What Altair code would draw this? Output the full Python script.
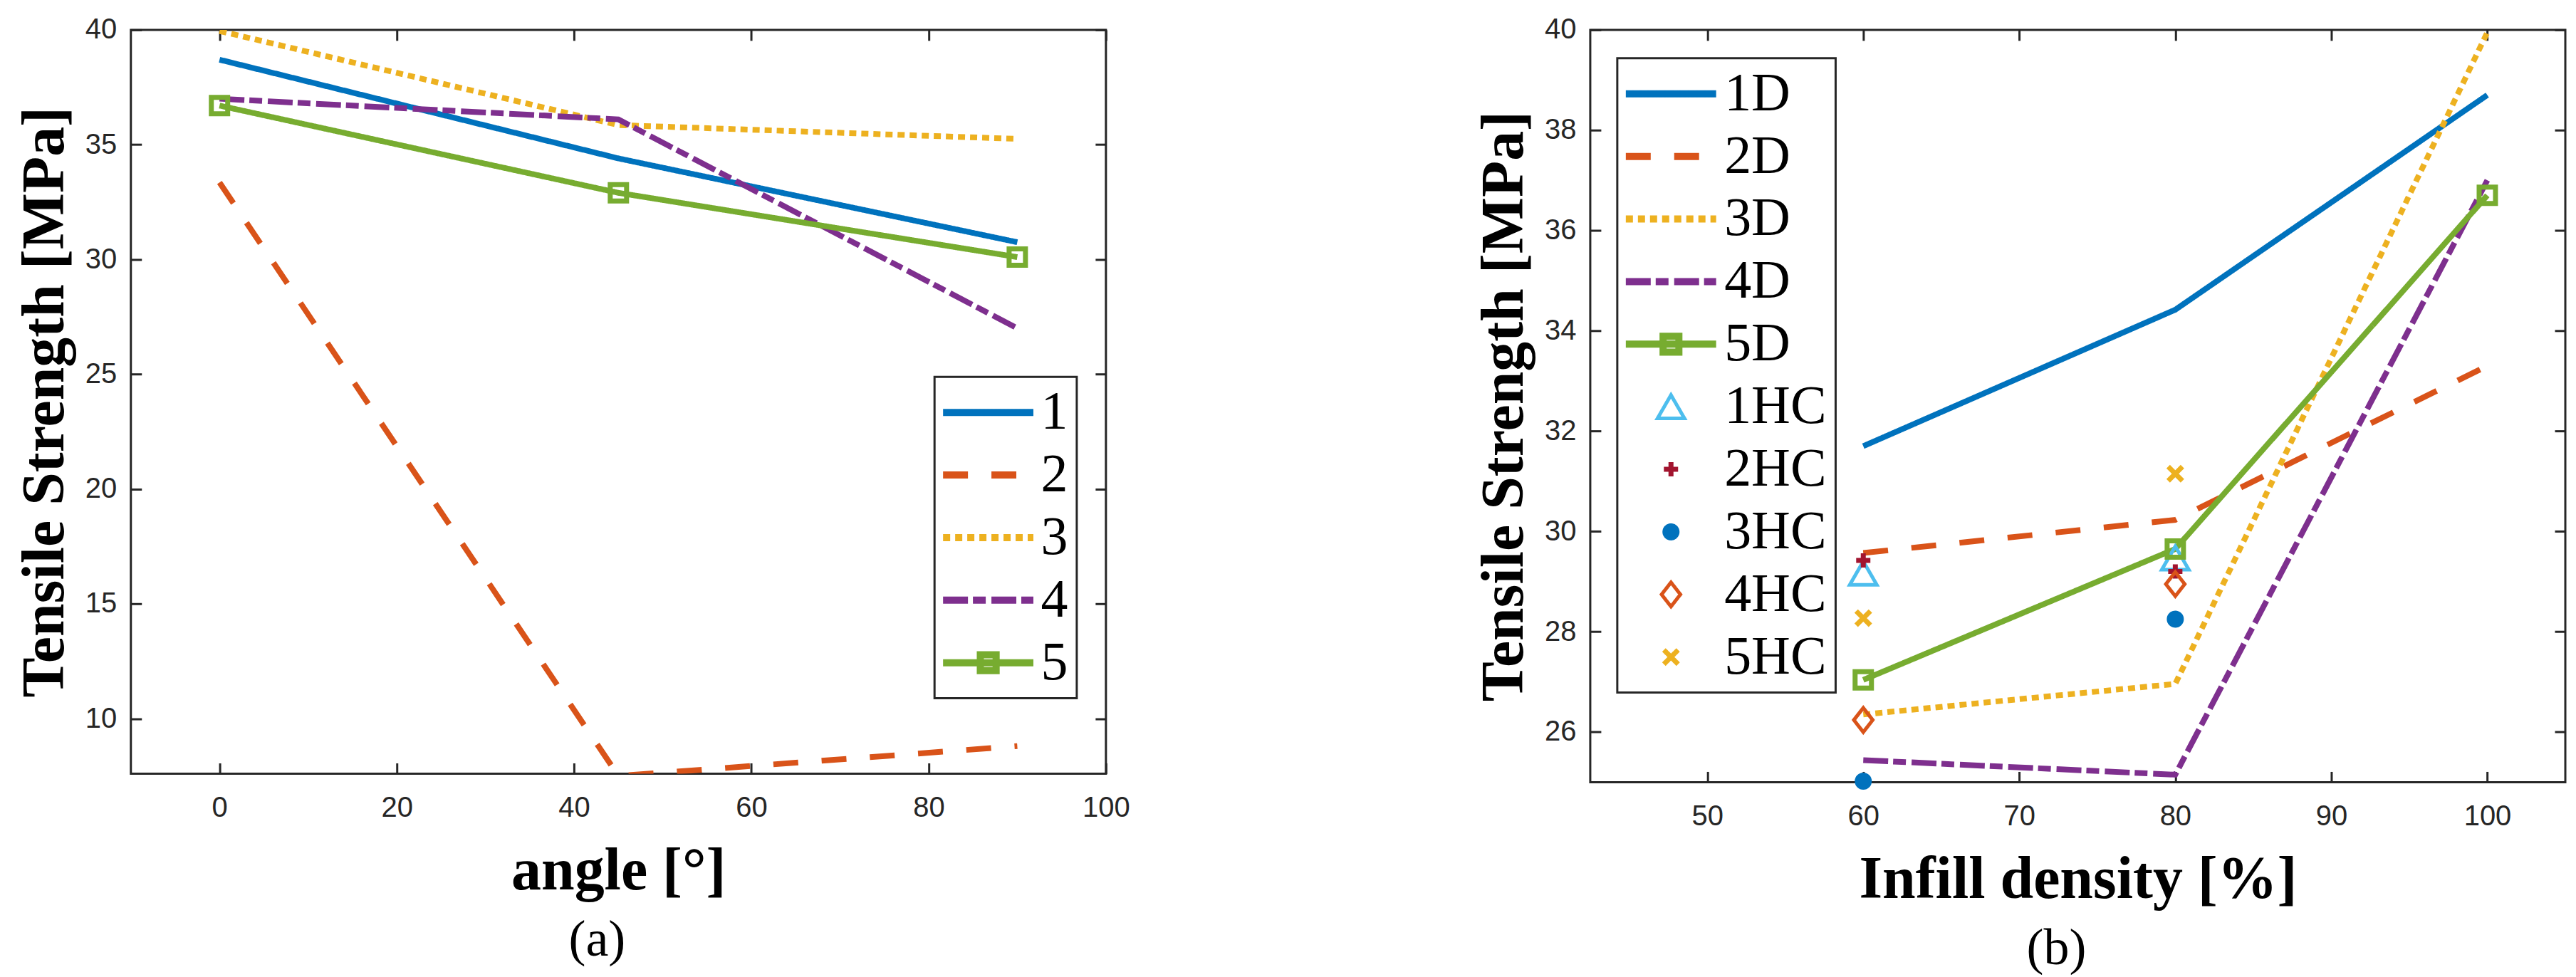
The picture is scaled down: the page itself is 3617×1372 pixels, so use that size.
import altair as alt
import pandas as pd

SERIF = "Liberation Serif, Times New Roman, serif"
SANS = "Liberation Sans, Arial, Helvetica, sans-serif"

# (a) tensile strength vs. print angle
angles = [0, 45, 90]
angle_series = ["1", "2", "3", "4", "5"]
a1 = [38.7, 34.4, 30.75]
a2 = [33.35, 7.5, 8.8]
a3 = [39.95, 35.85, 35.25]
a4 = [37.0, 36.1, 27.0]
a5 = [36.7, 32.9, 30.1]

# (b) tensile strength vs. infill density
density = [60, 80, 100]
line_names = ["1D", "2D", "3D", "4D", "5D"]
d1 = [31.7, 34.42, 38.7]
d2 = [29.57, 30.23, 33.3]
d3 = [26.35, 26.96, 39.95]
d4 = [25.44, 25.15, 37.0]
d5 = [27.04, 29.65, 36.7]

hc_density = [60, 80]
hc_names = ["1HC", "2HC", "3HC", "4HC", "5HC"]
hc1 = [29.17, 29.47]
hc2 = [29.42, 29.2]
hc3 = [25.02, 28.25]
hc4 = [26.24, 28.95]
hc5 = [28.27, 31.15]

# matlab default colours
line_colors = ["#0072BD", "#D95319", "#EDB120", "#7E2F8E", "#77AC30"]
hc_colors = ["#4DBEEE", "#A2142F", "#0072BD", "#D95319", "#EDB120"]
dashes = [[1, 0], [35, 33], [10, 7], [35, 7, 18, 8], [1, 0]]

# legend symbols (custom paths are scaled by sqrt(size)/2)
LINE = "M-2,0H2"
LINE_SQ = "M-2,0H2M-0.35,-0.35H0.35V0.35H-0.35Z"
PLUS = "M-1,0H1M0,-1V1"
XMARK = "M-1,-1L1,1M-1,1L1,-1"
DIAMOND = "M0,-1L0.78,0L0,1L-0.78,0Z"
line_shapes = [LINE, LINE, LINE, LINE, LINE_SQ]
hc_shapes = ["triangle-up", PLUS, "circle", DIAMOND, XMARK]
hc_sizes = [1444, 400, 324, 1156, 400]
hc_widths = [5, 7, 6, 5, 7]
LINE_SIZE = 4032
KEY_WIDTH = 10


def long_table(xname, xs, names, ys_list):
    rows = []
    for name, ys in zip(names, ys_list):
        for x, y in zip(xs, ys):
            rows.append({xname: x, "strength": y, "series": name})
    return pd.DataFrame(rows)


df_a = long_table("angle", angles, angle_series, [a1, a2, a3, a4, a5])
df_b = long_table("density", density, line_names, [d1, d2, d3, d4, d5])
df_hc = long_table("density", hc_density, hc_names, [hc1, hc2, hc3, hc4, hc5])


def axis(orient, values, title=None):
    kw = dict(orient=orient, values=values, offset=-15, tickSize=15, domain=False,
              grid=False, labelFlush=False, labelOverlap=False)
    if orient in ("top", "right"):
        kw.update(labels=False, title=None)
    else:
        kw.update(title=title)
        if orient == "bottom":
            kw.update(labelPadding=28, titlePadding=28)
        else:
            kw.update(labelPadding=20, titlePadding=13)
    return alt.Axis(**kw)


def legend(x, y, label_offset, **extra):
    return alt.Legend(title=None, orient="none", legendX=x, legendY=y,
                      labelFont=SERIF, labelFontSize=76, labelColor="black",
                      labelOffset=label_offset, labelLimit=400,
                      symbolOffset=25.5, symbolStrokeWidth=KEY_WIDTH, symbolOpacity=1,
                      symbolFillColor="transparent",
                      padding=12, rowPadding=12,
                      strokeColor="#262626", fillColor="white", **extra)


def caption(text):
    return alt.TitleParams(text, orient="bottom", anchor="middle", font=SERIF,
                           fontSize=72, fontWeight="normal", color="black",
                           offset=20, dx=-30)


# ---------- panel (a)
xa = alt.Scale(domain=[-10, 100], nice=False, zero=False)
ya = alt.Scale(domain=[7.6, 40], nice=False, zero=False)
xa_ticks = [0, 20, 40, 60, 80, 100]
ya_ticks = [10, 15, 20, 25, 30, 35, 40]
leg_a = legend(1130, 488, 36, symbolSize=LINE_SIZE)

color_a = alt.Color("series:N", scale=alt.Scale(domain=angle_series, range=line_colors), legend=leg_a)

line_a = alt.Chart(df_a).mark_line(strokeWidth=8, clip=True).encode(
    x=alt.X("angle:Q", scale=xa, axis=axis("bottom", xa_ticks, "angle [°]")),
    y=alt.Y("strength:Q", scale=ya, axis=axis("left", ya_ticks, "Tensile Strength [MPa]")),
    color=color_a,
    strokeDash=alt.StrokeDash("series:N", scale=alt.Scale(domain=angle_series, range=dashes), legend=leg_a),
)

# carries the legend shapes only, draws nothing
key_a = alt.Chart(df_a).transform_filter("datum.strength > 1000").mark_point(
    filled=False, strokeWidth=KEY_WIDTH, opacity=1
).encode(
    x=alt.X("angle:Q", scale=xa, axis=None),
    y=alt.Y("strength:Q", scale=ya, axis=None),
    color=color_a,
    shape=alt.Shape("series:N", scale=alt.Scale(domain=angle_series, range=line_shapes), legend=leg_a),
)

sq_a = alt.Chart(df_a).transform_filter("datum.series == '5'").mark_point(
    shape="square", size=529, filled=False, strokeWidth=7, color="#77AC30", opacity=1
).encode(
    x=alt.X("angle:Q", scale=xa, axis=None),
    y=alt.Y("strength:Q", scale=ya, axis=None),
)

frame_a = alt.Chart(df_a).mark_point(opacity=0).encode(
    x=alt.X("angle:Q", scale=xa, axis=axis("top", xa_ticks)),
    y=alt.Y("strength:Q", scale=ya, axis=axis("right", ya_ticks)),
)

panel_a = alt.layer(line_a, key_a, sq_a, frame_a).resolve_axis(
    x="independent", y="independent"
).properties(width=1371, height=1046, title=caption("(a)"))

# ---------- panel (b)
xb = alt.Scale(domain=[42.5, 105], nice=False, zero=False)
yb = alt.Scale(domain=[25, 40], nice=False, zero=False)
xb_ticks = [50, 60, 70, 80, 90, 100]
yb_ticks = [26, 28, 30, 32, 34, 36, 38, 40]
all_names = line_names + hc_names
leg_b = legend(38, 40, 37)

color_b = alt.Color("series:N", scale=alt.Scale(domain=all_names, range=line_colors + hc_colors), legend=leg_b)

line_b = alt.Chart(df_b).mark_line(strokeWidth=8).encode(
    x=alt.X("density:Q", scale=xb, axis=axis("bottom", xb_ticks, "Infill density [%]")),
    y=alt.Y("strength:Q", scale=yb, axis=axis("left", yb_ticks, "Tensile Strength [MPa]")),
    color=color_b,
    strokeDash=alt.StrokeDash("series:N", scale=alt.Scale(domain=all_names, range=dashes + [[1, 0]] * 5), legend=leg_b),
)

hc_b = alt.Chart(df_hc).mark_point(filled=False, opacity=1).encode(
    x=alt.X("density:Q", scale=xb, axis=None),
    y=alt.Y("strength:Q", scale=yb, axis=None),
    color=color_b,
    fill=alt.Fill("series:N", scale=alt.Scale(domain=all_names, range=["transparent"] * 7 + ["#0072BD"] + ["transparent"] * 2), legend=leg_b),
    shape=alt.Shape("series:N", scale=alt.Scale(domain=all_names, range=line_shapes + hc_shapes), legend=leg_b),
    size=alt.Size("series:N", scale=alt.Scale(type="ordinal", domain=all_names, range=[LINE_SIZE] * 5 + hc_sizes), legend=leg_b),
    strokeWidth=alt.StrokeWidth("series:N", scale=alt.Scale(type="ordinal", domain=all_names, range=[KEY_WIDTH] * 5 + hc_widths), legend=leg_b),
)

sq_b = alt.Chart(df_b).transform_filter("datum.series == '5D'").mark_point(
    shape="square", size=529, filled=False, strokeWidth=7, color="#77AC30", opacity=1
).encode(
    x=alt.X("density:Q", scale=xb, axis=None),
    y=alt.Y("strength:Q", scale=yb, axis=None),
)

frame_b = alt.Chart(df_b).mark_point(opacity=0).encode(
    x=alt.X("density:Q", scale=xb, axis=axis("top", xb_ticks)),
    y=alt.Y("strength:Q", scale=yb, axis=axis("right", yb_ticks)),
)

panel_b = alt.layer(line_b, hc_b, sq_b, frame_b).resolve_axis(
    x="independent", y="independent"
).properties(width=1371, height=1058, title=caption("(b)"))

chart = alt.hconcat(panel_a, panel_b, spacing=681, bounds="flush").resolve_scale(
    color="independent", strokeDash="independent", shape="independent",
    fill="independent", size="independent", strokeWidth="independent",
).resolve_legend(
    color="independent", strokeDash="independent", shape="independent",
    fill="independent", size="independent", strokeWidth="independent",
).properties(
    padding={"left": 12, "top": 11, "right": 4, "bottom": 0},
    background="white",
).configure_view(
    stroke="#262626", strokeWidth=3
).configure_axis(
    labelFont=SANS, labelFontSize=40, labelColor="#262626",
    titleFont=SERIF, titleFontSize=84, titleFontWeight="bold", titleColor="black",
    tickColor="#262626", tickWidth=3,
).configure_legend(
    strokeWidth=3, symbolStrokeWidth=KEY_WIDTH
)

chart.save("out.html", embed_options={"renderer": "svg", "actions": False})
